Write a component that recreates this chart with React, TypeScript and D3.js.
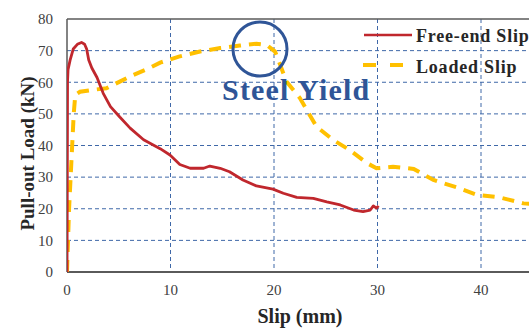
import React from 'react'
import * as d3 from 'd3'

// slip (mm), load (kN)
const freeEndSlip = [0, 0.02, 0.04, 0.05, 0.1, 0.3, 0.6, 1.0, 1.4, 1.7, 1.9, 2.1, 2.4, 2.9, 3.5, 4.2, 5.1, 6.1, 7.4, 9.0, 9.95, 10.9, 11.9, 13.2, 13.8, 14.8, 15.7, 17.0, 18.3, 19.9, 20.9, 22.2, 23.8, 25.1, 26.4, 27.7, 28.6, 29.3, 29.6, 29.9, 30.1]
const freeEndLoad = [0, 20, 45, 60, 64, 67, 70.5, 72, 72.6, 72, 70.5, 67, 64.5, 61.5, 56.5, 52.3, 49, 45.5, 41.8, 39, 37, 34, 32.8, 32.8, 33.5, 32.8, 31.7, 29.1, 27.2, 26.2, 24.9, 23.6, 23.3, 22.2, 21.2, 19.6, 19.1, 19.6, 20.9, 20.2, 20.9]

const loadedSlip = [0, 0.1, 0.2, 0.35, 0.5, 0.65, 0.8, 1.26, 2.5, 3.8, 5.1, 6.4, 7.7, 9.0, 10.8, 12.85, 14.8, 16.7, 18.3, 19.3, 20.1, 20.6, 21.2, 22.5, 24.1, 25.7, 27.3, 29.0, 29.9, 31.5, 33.5, 35.4, 37.6, 39.6, 41.8, 44.1, 45]
const loadedLoad = [0, 10, 20, 30, 40, 50, 56, 57, 57.6, 58.1, 60.2, 62.3, 64.1, 66.2, 68.1, 69.7, 70.8, 71.6, 72.2, 71.8, 69.7, 65.5, 60.2, 55, 46, 41.8, 38.6, 34.4, 32.8, 33.3, 32.6, 29.1, 26.8, 24.4, 23.6, 21.7, 21.5]

const xTicks = [0, 10, 20, 30, 40]
const yTicks = [0, 10, 20, 30, 40, 50, 60, 70, 80]

const W = 529
const H = 332
const serif = '"Liberation Serif", "Times New Roman", serif'

export default function App() {
  const x = d3.scaleLinear().domain([0, 45]).range([67, 532.75])
  const y = d3.scaleLinear().domain([0, 80]).range([272, 19])

  const line = d3
    .line<[number, number]>()
    .x((d) => x(d[0]))
    .y((d) => y(d[1]))

  const red = line(freeEndSlip.map((s, i) => [s, freeEndLoad[i]]) as [number, number][]) || ''
  const yellow = line(loadedSlip.map((s, i) => [s, loadedLoad[i]]) as [number, number][]) || ''

  const grid = '#3f68a8'
  const axis = '#5a5a5a'

  return (
    <div style={{ position: 'absolute', left: 0, top: 0 }}>
      <svg width={W} height={H} style={{ display: 'block', background: '#fff' }}>
        <defs>
          <clipPath id="plot">
            <rect x={x(0)} y={y(80)} width={W - x(0)} height={y(0) - y(80)} />
          </clipPath>
        </defs>

        {/* grid */}
        {yTicks.slice(1, -1).map((t) => (
          <line key={'h' + t} x1={x(0)} x2={W} y1={y(t)} y2={y(t)} stroke={grid} strokeWidth={1} strokeDasharray="4,3" />
        ))}
        {xTicks.slice(1).map((t) => (
          <line key={'v' + t} x1={x(t)} x2={x(t)} y1={y(80)} y2={y(0)} stroke={grid} strokeWidth={1} strokeDasharray="4,3" />
        ))}

        {/* frame */}
        <line x1={x(0)} x2={W} y1={y(80)} y2={y(80)} stroke={axis} strokeWidth={1.5} />
        <line x1={x(0)} x2={x(0)} y1={y(80)} y2={y(0)} stroke={axis} strokeWidth={1.5} />
        <line x1={x(0)} x2={W} y1={y(0)} y2={y(0)} stroke={axis} strokeWidth={2} />

        {/* series */}
        <g clipPath="url(#plot)">
          <path d={yellow} fill="none" stroke="#FFC000" strokeWidth={4} strokeDasharray="12,8" />
          <path d={red} fill="none" stroke="#C0272D" strokeWidth={2.8} strokeLinejoin="round" />
        </g>

        {/* tick labels */}
        {yTicks.map((t) => (
          <text key={'yl' + t} x={53} y={y(t)} dy="0.35em" textAnchor="end" fontFamily={serif} fontSize={15} fill="#404040">
            {t}
          </text>
        ))}
        {xTicks.map((t) => (
          <text key={'xl' + t} x={x(t)} y={295} textAnchor="middle" fontFamily={serif} fontSize={15} fill="#404040">
            {t}
          </text>
        ))}

        {/* axis titles */}
        <text
          transform={`translate(34,${(y(0) + y(80)) / 2 + 8}) rotate(-90)`}
          textAnchor="middle"
          fontFamily={serif}
          fontSize={19}
          fontWeight="bold"
          fill="#262626"
        >
          Pull-out Load (kN)
        </text>
        <text x={300} y={323} textAnchor="middle" fontFamily={serif} fontSize={20} fontWeight="bold" fill="#262626">
          Slip (mm)
        </text>

        {/* legend */}
        <line x1={364} x2={412} y1={35} y2={35} stroke="#C0272D" strokeWidth={2.6} />
        <text x={416} y={41.5} fontFamily={serif} fontSize={18} fontWeight="bold" fill="#262626" letterSpacing={0.8}>
          Free-end Slip
        </text>
        <line x1={363} x2={405} y1={65} y2={65} stroke="#FFC000" strokeWidth={4} strokeDasharray="13,14" />
        <text x={416} y={72.5} fontFamily={serif} fontSize={18} fontWeight="bold" fill="#262626" letterSpacing={0.8}>
          Loaded Slip
        </text>

        {/* annotation */}
        <circle cx={260} cy={49} r={27} fill="none" stroke="#2F5597" strokeWidth={3} />
        <text x={222} y={100} fontFamily={serif} fontSize={30} fontWeight="bold" fill="#2F5597" letterSpacing={1.2}>
          Steel Yield
        </text>
      </svg>
    </div>
  )
}
